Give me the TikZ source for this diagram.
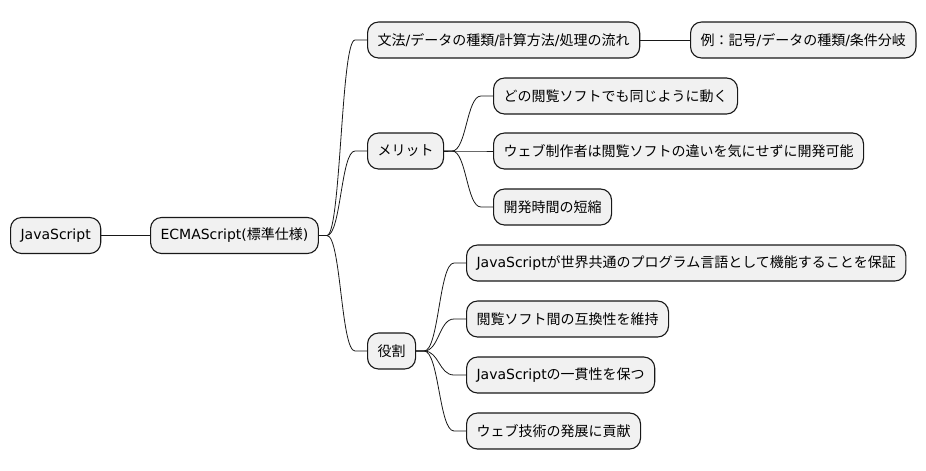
\documentclass[tikz,border=0pt]{standalone}
\usepackage{fontspec}
\usetikzlibrary{calc}
\setmainfont{Noto Sans CJK JP}
\newfontfamily\lat{DejaVu Sans}
\definecolor{boxfill}{HTML}{F1F1F1}
\definecolor{boxline}{HTML}{181818}
\begin{document}
\begin{tikzpicture}[x=1pt,y=-1pt,
  mm/.style={draw=boxline,fill=boxfill,line width=1.1pt,rounded corners=11pt,
    minimum height=36pt,inner xsep=10pt,inner ysep=0pt,anchor=west,
    font=\fontsize{14}{16}\selectfont,text=black},
  link/.style={draw=boxline,line width=0.8pt}]
\useasboundingbox (0,0) rectangle (926,471);
\node[mm] (js) at (10,235.5) {\lat JavaScript};
\node[mm] (ecma) at (150,235.5) {{\lat ECMAScript(}標準仕様{\lat )}};
\node[mm] (bunpo) at (367,40) {文法{\lat /}データの種類{\lat /}計算方法{\lat /}処理の流れ};
\node[mm] (rei) at (690,40) {例：記号{\lat /}データの種類{\lat /}条件分岐};
\node[mm] (merit) at (367,151) {メリット};
\node[mm] (dono) at (493,96) {どの閲覧ソフトでも同じように動く};
\node[mm] (web) at (493,151) {ウェブ制作者は閲覧ソフトの違いを気にせずに開発可能};
\node[mm] (kaih) at (493,207) {開発時間の短縮};
\node[mm] (yaku) at (367,351) {役割};
\node[mm] (jsga) at (466,263) {{\lat JavaScript}が世界共通のプログラム言語として機能することを保証};
\node[mm] (etu) at (466,319) {閲覧ソフト間の互換性を維持};
\node[mm] (ikk) at (466,375) {{\lat JavaScript}の一貫性を保つ};
\node[mm] (wgi) at (466,431) {ウェブ技術の発展に貢献};
\draw[link] (js.east) -- (ecma.west);
\draw[link] (bunpo.east) -- (rei.west);
\foreach \p/\c in {ecma/bunpo,ecma/merit,ecma/yaku,merit/dono,merit/web,merit/kaih,
                   yaku/jsga,yaku/etu,yaku/ikk,yaku/wgi}{
  \coordinate (s) at ($(\p.east)+(8,0)$);
  \coordinate (e) at ($(\c.west)+(-12,0)$);
  \coordinate (m) at ($(s)!0.5!(e)$);
  \draw[link] (\p.east) -- (s) .. controls (m |- s) and (m |- e) .. (e) -- (\c.west);
}
\end{tikzpicture}
\end{document}
